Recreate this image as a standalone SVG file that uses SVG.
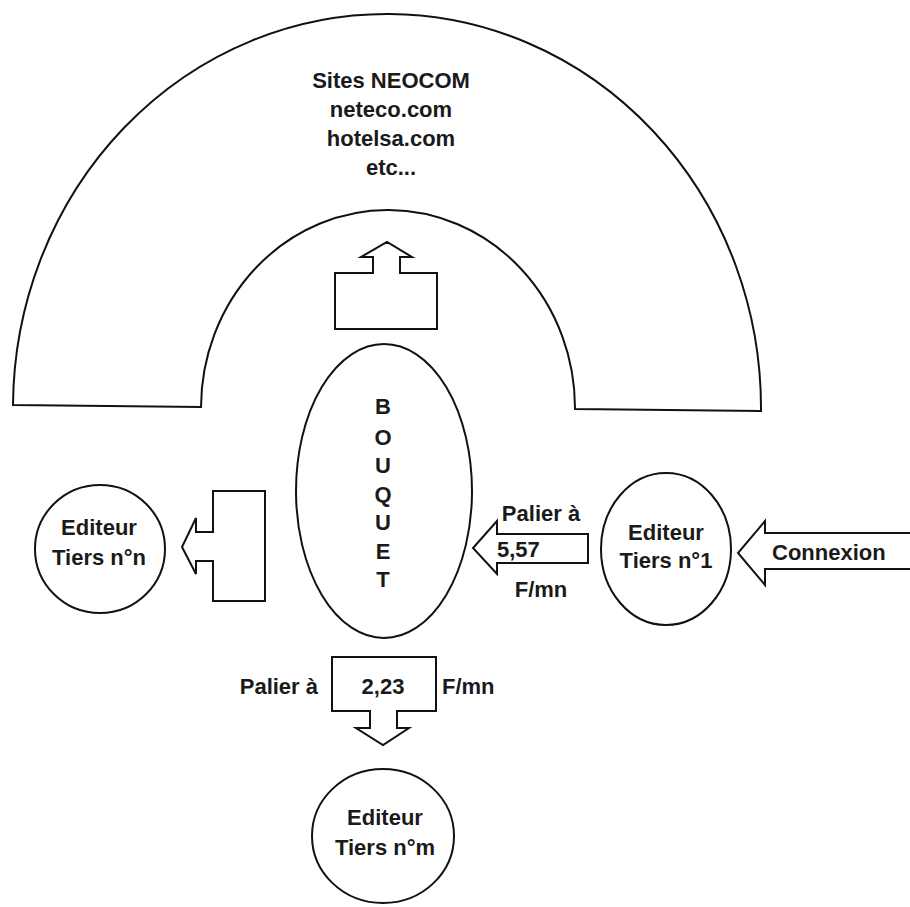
<svg xmlns="http://www.w3.org/2000/svg" width="910" height="907" viewBox="0 0 910 907">
<style>
.s{fill:#fff;stroke:#111;stroke-width:2;stroke-linejoin:miter}
.t{font-family:"Liberation Sans",Arial,sans-serif;font-weight:bold;font-size:22px;fill:#1a1a1a}
.c{text-anchor:middle}
</style>
<rect width="910" height="907" fill="#fff"/>
<g id="sites">
<path class="s" d="M13,405 A374,394 0 0 1 761,411 L575,409 A187,198 0 0 0 201,407 Z"/>
<text class="t c" x="391" y="88" font-size="23">Sites NEOCOM</text>
<text class="t c" x="391" y="117" font-size="23">neteco.com</text>
<text class="t c" x="391" y="146" font-size="23">hotelsa.com</text>
<text class="t c" x="391" y="175" font-size="23">etc...</text>
</g>
<g id="bouquet">
<ellipse class="s" cx="384" cy="491" rx="88" ry="147"/>
<text class="t c" x="383" y="414" font-size="21">B</text>
<text class="t c" x="383" y="445" font-size="21">O</text>
<text class="t c" x="383" y="473" font-size="21">U</text>
<text class="t c" x="383" y="502" font-size="21">Q</text>
<text class="t c" x="383" y="530" font-size="21">U</text>
<text class="t c" x="383" y="559" font-size="21">E</text>
<text class="t c" x="383" y="587" font-size="21">T</text>
</g>
<g id="editeur-n">
<ellipse class="s" cx="100" cy="549" rx="65" ry="64"/>
<text class="t c" x="99" y="535" font-size="23">Editeur</text>
<text class="t c" x="99" y="565" font-size="23">Tiers n°n</text>
</g>
<g id="editeur-1">
<ellipse class="s" cx="666" cy="549" rx="65" ry="76"/>
<text class="t c" x="666" y="540" font-size="23">Editeur</text>
<text class="t c" x="666" y="568" font-size="23">Tiers n°1</text>
</g>
<g id="editeur-m">
<ellipse class="s" cx="383" cy="836" rx="71" ry="67"/>
<text class="t c" x="385" y="825" font-size="23">Editeur</text>
<text class="t c" x="385" y="855" font-size="23">Tiers n°m</text>
</g>
<g id="connectors">
<path class="s" d="M335,273 L373,273 L373,257 L361,257 L387,242 L412,257 L400,257 L400,273 L437,273 L437,329 L335,329 Z"/>
<path class="s" d="M265,491 L213,491 L213,532 L196,532 L196,518 L182,547 L196,574 L196,561 L213,561 L213,601 L265,601 Z"/>
<path class="s" d="M588,534 L497,534 L497,521 L473,548 L497,574 L497,563 L588,563 Z"/>
<path class="s" d="M912,533 L765,533 L765,521 L738,553 L765,585 L765,569 L912,569"/>
<path class="s" d="M332,657 L436,657 L436,711 L397,711 L397,728 L409,728 L383,745 L356,728 L370,728 L370,711 L332,711 Z"/>
<text class="t c" x="541" y="521">Palier à</text>
<text class="t" x="497" y="557">5,57</text>
<text class="t c" x="541" y="597">F/mn</text>
<text class="t" x="772" y="560">Connexion</text>
<text class="t" x="318" y="694" text-anchor="end">Palier à</text>
<text class="t c" x="383" y="694">2,23</text>
<text class="t" x="442" y="694">F/mn</text>
</g>
</svg>
